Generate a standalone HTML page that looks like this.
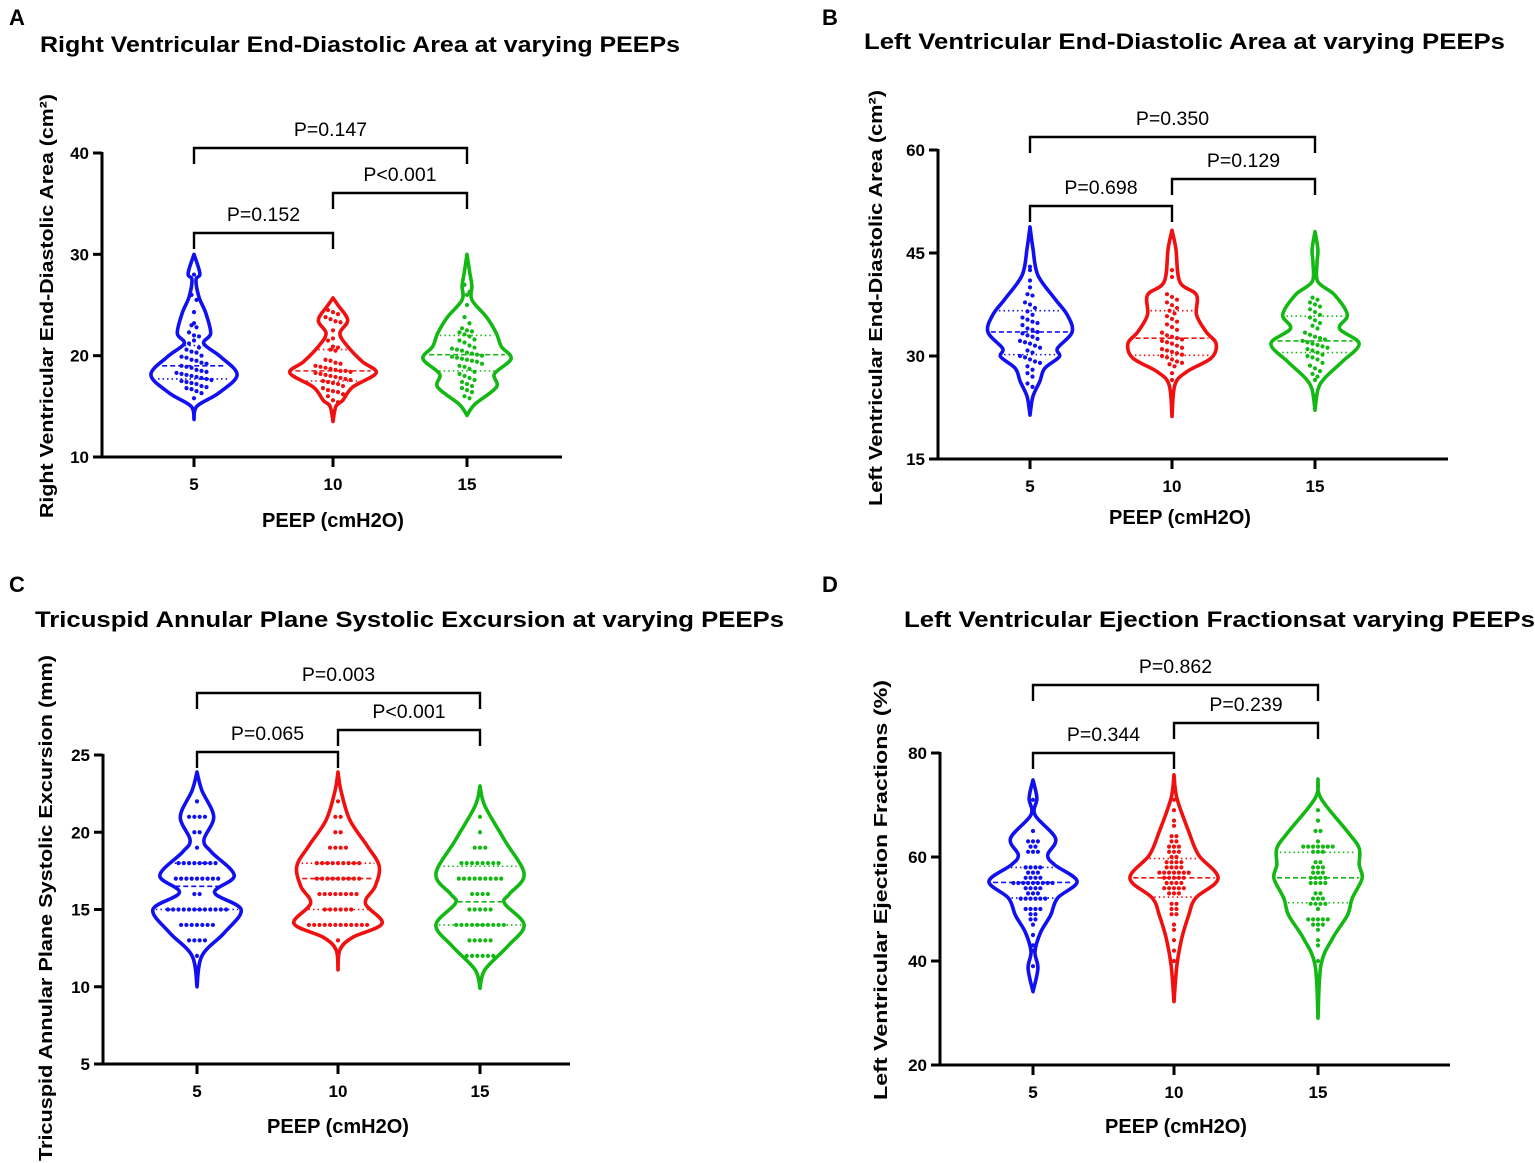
<!DOCTYPE html>
<html><head><meta charset="utf-8"><style>
html,body{margin:0;padding:0;background:#fff;}
svg{display:block;font-family:"Liberation Sans",Arial,sans-serif;}
</style></head><body>
<svg id="fig" width="1535" height="1163" viewBox="0 0 1535 1163" xmlns="http://www.w3.org/2000/svg"></svg>
<script>
// ===== Shared data =====
const categories = ["5","10","15"];
const seriesColors = ["#1010f0","#f01010","#14b814"];

// ===== Panel A data =====
const A_ticks = [10,20,30,40];
const A_levels = [
 [30,28.1,27.5,25.8,24.2,22.2,21.2,19.9,18.1,16.3,15.0,13.7],
 [25.7,25.0,23.5,22.2,20.9,19.4,18.3,16.9,15.6,15.0,13.5],
 [30,28.1,26.9,25.5,23.8,22.2,20.9,19.7,18.2,16.9,15.2,14.1]];
const A_widths = [
 [0,6,2,5,12,17,10,27,44,25,3,0],
 [0,5,15,7,15,30,44,20,10,3,0],
 [0,3,5,5,20,30,35,45,28,30,8,0]];
const A_median = [19.0,18.5,20.1];
const A_q1 = [17.7,17.5,18.5];
const A_q3 = [21.0,20.6,22.0];
const A_dots = [
 [28,26,25.5,24.3,23.2,23,22.8,22.3,22,21.9,21.2,20.6,20.4,20.3,20,19.9,19.8,19.6,19.5,19.3,19.2,19,18.9,18.8,18.6,18.5,18.4,18.3,18.2,18.1,18,17.9,17.8,17.7,17.6,17.5,17.4,17.3,17.2,17.0,16.9,16.8,16.7,16.5,16.3,15.8,21.5,20.8],
 [24.5,24.3,24.1,23.8,23.6,23.4,23.3,22.5,21.7,21.5,20.9,20.8,20.6,20.5,19.6,19.5,19.3,19.2,19.0,18.9,18.8,18.7,18.6,18.5,18.5,18.4,18.3,18.2,18.1,18.0,17.9,17.8,17.7,17.6,17.5,17.4,17.3,17.2,17.0,16.8,16.6,16.5,16.4,16.2,16.0,15.6,15.4],
 [27,26.3,26,25,23.8,23.2,22.7,22.5,22.4,22.3,22.1,21.9,21.6,21.5,21.3,21,20.8,20.7,20.6,20.5,20.3,20.2,20.1,20,19.9,19.8,19.7,19.6,19.5,19.4,19.2,19.0,18.9,18.7,18.4,18.2,18.0,17.8,17.6,17.4,17.2,17.0,16.8,16.6,16.4,16.0,15.8]];
const A_pvals = ["P=0.147","P<0.001","P=0.152"];

// ===== Panel B data =====
const B_ticks = [15,30,45,60];
const B_levels = [
 [48.8,45.7,41.8,38.4,36.0,33.5,31.1,29.9,28.2,26.3,24.1,21.4],
 [48.3,45.6,40.8,38.9,36.0,33.5,31.8,29.7,27.7,25.8,21.2],
 [48.1,45.5,43.5,40.8,38.9,36.0,34.0,31.8,29.2,26.8,25.1,22.1]];
const B_widths = [
 [0,3,8,25,38,43,28,30,15,10,3,0],
 [0,4,8,25,25,35,45,40,15,3,0],
 [0,3,2,3,20,33,25,45,28,10,3,0]];
const B_median = [33.5,32.6,32.2];
const B_q1 = [30.2,30.1,30.5];
const B_q3 = [36.6,36.6,35.8];
const B_dots = [
 [43,42.5,41,40,39,38.8,37.8,37.5,37,36.5,36,35.6,35.3,35,34.8,34.5,34,33.8,33.5,33.3,33,32.8,32.5,32.2,32,31.8,31.5,31.2,30.8,30.5,30,29.8,29.5,29.2,29,28.5,28,27.5,27,26,25.5],
 [42.5,41.5,39,38.6,38.2,37.8,37.4,37,36.6,36.2,35.8,35.4,35,34.6,34.2,33.8,33.4,33,32.8,32.6,32.4,32.2,32,31.8,31.5,31.2,31,30.8,30.6,30.4,30.2,30,29.8,29.5,29.2,29,28.8,28.5,27.5,26.5],
 [38.5,38.2,37.8,37.5,37.2,36.8,36.4,36,35.6,35.2,34.8,34.4,34,33.4,33.1,32.8,32.6,32.4,32.2,32,31.8,31.6,31.4,31.2,31,30.8,30.5,30.2,30,29.8,29.5,29,28.6,28.2,27.8,27.4,27.0,26.5]];
const B_pvals = ["P=0.350","P=0.129","P=0.698"];

// ===== Panel C data =====
const C_ticks = [5,10,15,20,25];
const C_levels = [
 [23.9,22.7,21.0,19.5,18.7,17.2,16.1,15.0,13.5,12.0,10.0],
 [23.9,22.7,20.8,19.1,17.8,16.5,15.4,14.1,13.2,12.4,11.1],
 [23.0,21.7,19.5,17.3,16.0,15.4,14.0,12.6,11.1,9.9]];
const C_widths = [
 [0,5,17,7,15,38,18,45,28,5,0],
 [0,3,12,30,42,38,28,45,15,2,0],
 [0,5,25,45,30,25,45,28,5,0]];
const C_median = [16.5,17,15.5];
const C_q1 = [15,15,14];
const C_q3 = [18,18,17.8];
const C_dots = [
 [22,21,21,21,21,20,20,19,18,18,18,18,18,18,18,18,17,17,17,17,17,17,17,17,17,16,16,15,15,15,15,15,15,15,15,15,15,15,15,14,14,14,14,14,14,14,13,13,13,13,12],
 [22,21,21,20,20,19,19,19,19,18,18,18,18,18,18,18,18,18,17,17,17,17,17,17,17,17,17,16,16,16,16,16,16,16,16,15,15,15,15,15,15,14,14,14,14,14,14,14,14,14,14,14,14,13],
 [21,20,19,19,19,18,18,18,18,18,18,18,18,17,17,17,17,17,17,17,17,17,16,16,16,16,15,15,15,15,15,14,14,14,14,14,14,14,14,14,14,13,13,13,13,13,12,12,12,12,12,12]];
const C_pvals = ["P=0.003","P<0.001","P=0.065"];

// ===== Panel D data =====
const D_ticks = [20,40,60,80];
const D_levels = [
 [74.8,71.3,68.1,63.6,60.4,58.5,55.3,52.1,48.8,45.6,41.8,38.6,34.1],
 [75.8,71.3,64.9,60.4,55.9,52.1,48.8,44.4,39.2,32.2],
 [75.0,71.3,64.9,61.7,58.5,55.9,52.1,48.8,44.4,39.2,29.0]];
const D_widths = [
 [0,4,2,23,15,22,45,25,18,8,2,5,0],
 [0,3,15,25,45,22,15,8,3,0],
 [0,3,30,42,42,45,35,30,15,3,0]];
const D_median = [55.1,56.0,56.0];
const D_q1 = [52.1,52.3,51.2];
const D_q3 = [58.0,59.7,60.9];
const D_dots = [
 [71,65,63,63,63,62,62,61,61,61,58,58,58,58,57,57,57,56,56,56,56,55,55,55,55,55,55,55,55,55,54,54,54,54,53,53,53,52,52,52,52,52,52,50,50,50,50,49,49,48,48,47,45,43,42,39],
 [71,69,67,66,64,64,63,63,62,62,62,61,61,61,60,60,59,59,59,59,58,58,58,58,57,57,57,57,57,57,57,56,56,56,56,56,55,55,55,55,54,54,54,54,54,53,53,53,51,51,50,50,49,49,47,46,44,42,40],
 [69,67,65,65,63,62,62,62,62,62,62,62,61,61,61,59,59,58,58,58,57,57,57,56,56,56,56,55,55,55,55,53,53,52,52,52,51,51,51,51,50,48,48,48,48,48,47,47,47,46,44,43,40,36]];
const D_pvals = ["P=0.862","P=0.239","P=0.344"];

// ===== Rendering =====
const NS = "http://www.w3.org/2000/svg";
const svg = document.getElementById("fig");
function mk(tag, attrs, parent, text){
  const e = document.createElementNS(NS, tag);
  for (const k in attrs) e.setAttribute(k, attrs[k]);
  if (text !== undefined) e.textContent = text;
  (parent||svg).appendChild(e);
  return e;
}
function smoothPath(pts){
  let d = "M"+pts[0][0].toFixed(1)+","+pts[0][1].toFixed(1);
  for (let i=0;i<pts.length-1;i++){
    const p0=pts[Math.max(0,i-1)], p1=pts[i], p2=pts[i+1], p3=pts[Math.min(pts.length-1,i+2)];
    const c1=[p1[0]+(p2[0]-p0[0])/6, p1[1]+(p2[1]-p0[1])/6];
    const c2=[p2[0]-(p3[0]-p1[0])/6, p2[1]-(p3[1]-p1[1])/6];
    d += " C"+c1[0].toFixed(1)+","+c1[1].toFixed(1)+" "+c2[0].toFixed(1)+","+c2[1].toFixed(1)+" "+p2[0].toFixed(1)+","+p2[1].toFixed(1);
  }
  return d;
}

function drawPanel(P){
  const g = mk("g", {});
  
  
  const y = v => P.yBottom - (v - P.yMin)/(P.yMax - P.yMin)*(P.yBottom - P.yTop);
  const x = i => P.catX[i];

  const letter = mk("text", {x:P.letterX, y:P.letterY, "font-size":22, "font-weight":"bold"}, g, P.id);
  
  
  const title = mk("text", {x:P.titleX, y:P.titleY, "font-size":22, "font-weight":"bold", textLength:P.titleW, lengthAdjust:"spacingAndGlyphs"}, g, P.title);
  
  

  const yAxis = mk("line", {x1:P.axisX, y1:P.yTop-1, x2:P.axisX, y2:P.yBottom+1.5, stroke:"#000", "stroke-width":3}, g);
  
  
  const xAxis = mk("line", {x1:P.axisX-1.5, y1:P.yBottom, x2:P.axisEnd, y2:P.yBottom, stroke:"#000", "stroke-width":3}, g);
  
  
  P.ticks.forEach(t=>{
    const ty = y(t);
    const tk = mk("line", {x1:P.axisX-9, y1:ty, x2:P.axisX, y2:ty, stroke:"#000", "stroke-width":3}, g);
    
    
    const tl = mk("text", {x:P.axisX-13, y:ty+6, "font-size":17, "font-weight":"bold", "text-anchor":"end"}, g, String(t));
    
    
  });
  categories.forEach((c,i)=>{
    const tk = mk("line", {x1:x(i), y1:P.yBottom, x2:x(i), y2:P.yBottom+10, stroke:"#000", "stroke-width":3}, g);
    
    
    const tl = mk("text", {x:x(i), y:P.yBottom+33, "font-size":17, "font-weight":"bold", "text-anchor":"middle"}, g, c);
    
    
  });
  const xt = mk("text", {x:P.xTitleX, y:P.xTitleY, "font-size":20, "font-weight":"bold", "text-anchor":"middle"}, g, "PEEP (cmH2O)");
  
  
  const yt = mk("text", {x:0, y:0, "font-size":18.5, "font-weight":"bold", "text-anchor":"middle", textLength:P.yTitleW, lengthAdjust:"spacingAndGlyphs", transform:"translate("+P.yTitleX+","+P.yTitleY+") rotate(-90)"}, g, P.yTitle);
  
  

  categories.forEach((c,i)=>{
    const col = seriesColors[i];
    const vg = mk("g", {}, g);
    
    
    const lv = P.levels[i], wd = P.widths[i];
    const right = lv.map((v,k)=>[x(i)+wd[k]*P.wScale, y(v)]);
    const left = lv.map((v,k)=>[x(i)-wd[k]*P.wScale, y(v)]).reverse();
    const path = mk("path", {d:smoothPath(right)+" "+smoothPath(left).replace("M","L")+" Z", fill:"none", stroke:col, "stroke-width":3.6, "stroke-linejoin":"round"}, vg);
    
    
    const halfAt = v => {
      for (let k=0;k<lv.length-1;k++){
        if ((v<=lv[k]&&v>=lv[k+1])){const f=(lv[k]-v)/(lv[k]-lv[k+1]||1);return (wd[k]+(wd[k+1]-wd[k])*f)*P.wScale;}
      }
      return 10;
    };
    [[P.median[i],"5,3","median-line"],[P.q1[i],"1.5,3","quartile-line"],[P.q3[i],"1.5,3","quartile-line"]].forEach(q=>{
      const hw = halfAt(q[0]) - 3;
      const ln = mk("line", {x1:x(i)-hw, x2:x(i)+hw, y1:y(q[0]), y2:y(q[0]), stroke:col, "stroke-width":1.6, "stroke-dasharray":q[1]}, vg);
      
      
    });
    const rows = {};
    P.dots[i].forEach(v=>{const key=Math.round(y(v)/P.binPx); (rows[key]=rows[key]||[]).push(v);});
    Object.keys(rows).forEach(k=>{
      const arr = rows[k];
      arr.forEach((v,j)=>{
        const dx = (j-(arr.length-1)/2)*P.dotGap;
        const dot = mk("circle", {cx:x(i)+dx, cy:y(v), r:2.1, fill:col}, vg);
        
        
      });
    });
  });

  P.brackets.forEach((b,k)=>{
    const bg = mk("g", {}, g);
    
    
    const x1 = x(b[0]), x2 = x(b[1]), by = b[2];
    const br = mk("path", {d:"M"+x1+","+(by+16)+" V"+by+" H"+x2+" V"+(by+16), fill:"none", stroke:"#000", "stroke-width":2.4}, bg);
    
    
    const pt = mk("text", {x:(x1+x2)/2, y:by-12, "font-size":19.5, "text-anchor":"middle"}, bg, P.pvals[k]);
    
    
  });
}

drawPanel({id:"A", letterX:9, letterY:25, title:"Right Ventricular End-Diastolic Area at varying PEEPs", titleX:40, titleY:52, titleW:640,
  yMin:10, yMax:40, yTop:153, yBottom:457, axisX:102, axisEnd:562, catX:[194,333,467], ticks:A_ticks,
  levels:A_levels, widths:A_widths, median:A_median, q1:A_q1, q3:A_q3, dots:A_dots, pvals:A_pvals, wScale:0.98, binPx:8, dotGap:5,
  brackets:[[0,2,148],[1,2,193],[0,1,233]], xTitleX:333, xTitleY:527,
  yTitle:"Right Ventricular End-Diastolic Area (cm²)", yTitleX:53, yTitleY:306, yTitleW:424});
drawPanel({id:"B", letterX:822, letterY:25, title:"Left Ventricular End-Diastolic Area at varying PEEPs", titleX:864, titleY:49, titleW:641,
  yMin:15, yMax:60, yTop:150, yBottom:459, axisX:938, axisEnd:1448, catX:[1030,1172,1315], ticks:B_ticks,
  levels:B_levels, widths:B_widths, median:B_median, q1:B_q1, q3:B_q3, dots:B_dots, pvals:B_pvals, wScale:0.98, binPx:8, dotGap:5,
  brackets:[[0,2,137],[1,2,179],[0,1,206]], xTitleX:1180, xTitleY:524,
  yTitle:"Left Ventricular End-Diastolic Area (cm²)", yTitleX:882, yTitleY:298, yTitleW:416});
drawPanel({id:"C", letterX:9, letterY:592, title:"Tricuspid Annular Plane Systolic Excursion at varying PEEPs", titleX:35, titleY:627, titleW:749,
  yMin:5, yMax:25, yTop:755, yBottom:1064, axisX:103, axisEnd:570, catX:[197,338,480], ticks:C_ticks,
  levels:C_levels, widths:C_widths, median:C_median, q1:C_q1, q3:C_q3, dots:C_dots, pvals:C_pvals, wScale:0.98, binPx:6, dotGap:5.3,
  brackets:[[0,2,693],[1,2,730],[0,1,752]], xTitleX:338, xTitleY:1133,
  yTitle:"Tricuspid Annular Plane Systolic Excursion (mm)", yTitleX:52, yTitleY:908, yTitleW:506});
drawPanel({id:"D", letterX:822, letterY:592, title:"Left Ventricular Ejection Fractionsat varying PEEPs", titleX:904, titleY:627, titleW:631,
  yMin:20, yMax:80, yTop:753, yBottom:1065, axisX:940, axisEnd:1450, catX:[1033,1174,1318], ticks:D_ticks,
  levels:D_levels, widths:D_widths, median:D_median, q1:D_q1, q3:D_q3, dots:D_dots, pvals:D_pvals, wScale:0.98, binPx:5, dotGap:4.9,
  brackets:[[0,2,685],[1,2,723],[0,1,753]], xTitleX:1176, xTitleY:1133,
  yTitle:"Left Ventricular Ejection Fractions (%)", yTitleX:887, yTitleY:890, yTitleW:420});
</script>
</body></html>
